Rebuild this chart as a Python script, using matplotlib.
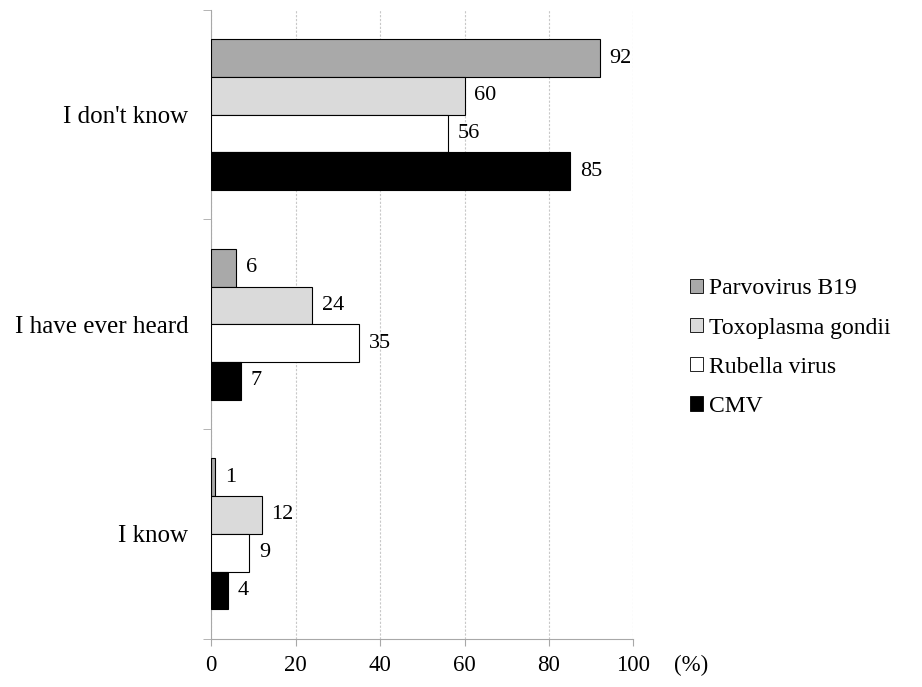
import numpy as np
import matplotlib.pyplot as plt
from matplotlib.patches import Patch

plt.rcParams["font.family"] = ["Liberation Serif", "DejaVu Serif"]

categories = ["I don't know", "I have ever heard", "I know"]
series     = ["Parvovirus B19", "Toxoplasma gondii", "Rubella virus", "CMV"]
values = {
    "Parvovirus B19":    [92, 6, 1],
    "Toxoplasma gondii": [60, 24, 12],
    "Rubella virus":     [56, 35, 9],
    "CMV":               [85, 7, 4],
}
colors = ["#a9a9a9", "#dadada", "#ffffff", "#000000"]
xticks = [0, 20, 40, 60, 80, 100]

fig = plt.figure(figsize=(9.22, 6.87), dpi=100)
ax = fig.add_axes([0.229, 0.0705, 0.458, 0.915])

bar_h = 0.18
y_base = np.arange(len(categories))
for i, (name, col) in enumerate(zip(series, colors)):
    y = y_base + (i - 1.5) * bar_h
    bars = ax.barh(y, values[name], height=bar_h, color=col,
                   edgecolor="black", linewidth=0.8, zorder=3)
    for b, v in zip(bars, values[name]):
        ax.text(b.get_width() + 2.3, b.get_y() + b.get_height() / 2, str(v),
                va="center", ha="left", fontsize=16)

ax.set_xlim(0, 100)
ax.set_ylim(len(categories) - 0.5, -0.5)
ax.set_xticks(xticks)
ax.set_xticklabels([str(t) for t in xticks], fontsize=16.5)
ax.set_yticks(y_base)
ax.set_yticklabels(categories, fontsize=18)
ax.set_yticks(np.arange(-0.5, len(categories)), minor=True)
ax.tick_params(axis="y", which="major", length=0, pad=16.5)
ax.tick_params(axis="y", which="minor", length=6, color="#a8a8a8")
ax.tick_params(axis="x", length=5, color="#a8a8a8", pad=7)

ax.grid(axis="x", color="#c8c8c8", linewidth=0.8, linestyle=(0, (2, 1.5)), zorder=0)
for s in ["top", "right"]:
    ax.spines[s].set_visible(False)
for s in ["left", "bottom"]:
    ax.spines[s].set_color("#a8a8a8")
    ax.spines[s].set_linewidth(0.8)

ax.text(1.095, -0.026, "(%)", transform=ax.transAxes, fontsize=16.5,
        ha="left", va="top")

handles = [Patch(facecolor=c, edgecolor="black", linewidth=0.6, label=n)
           for n, c in zip(series, colors)]
fig.legend(handles=handles, loc="center left", bbox_to_anchor=(0.748, 0.494),
           frameon=False, fontsize=17, handlelength=0.55, handleheight=0.55,
           handletextpad=0.25, labelspacing=0.77, borderaxespad=0, borderpad=0)

fig.savefig("out.png", dpi=100)
